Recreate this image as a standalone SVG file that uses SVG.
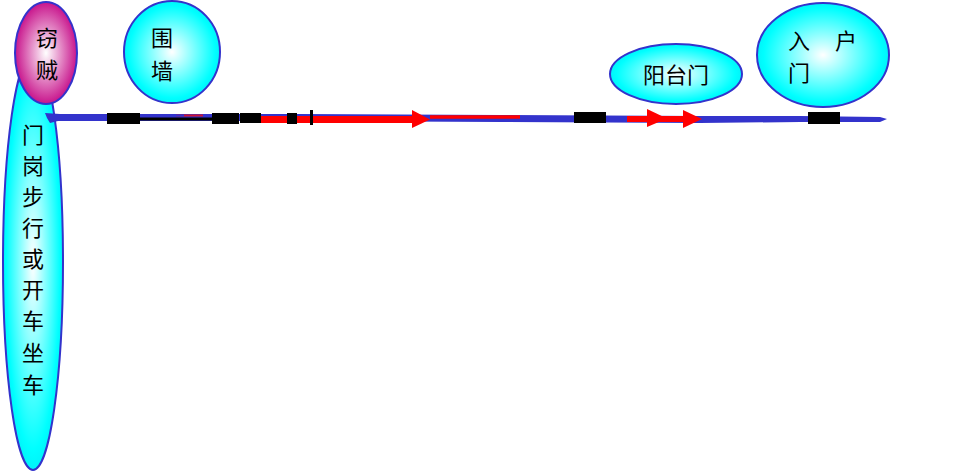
<svg xmlns="http://www.w3.org/2000/svg" width="976" height="472" viewBox="0 0 976 472">
<defs>
<radialGradient id="gc" cx="50%" cy="50%" r="50%">
<stop offset="0" stop-color="#ffffff"/>
<stop offset="0.9" stop-color="#00ffff"/>
<stop offset="1" stop-color="#00f4fa"/>
</radialGradient>
<radialGradient id="gm" cx="50%" cy="50%" r="50%">
<stop offset="0" stop-color="#ffffff"/>
<stop offset="1" stop-color="#c8148c"/>
</radialGradient>
</defs>
<style>
.node ellipse{stroke:#3333cc;stroke-width:2}
.cyan{fill:url(#gc)}
.mag{fill:url(#gm)}
text{font-family:"Noto Sans CJK SC","Noto Sans",sans-serif;font-size:22px;fill:#000}
.blk{fill:#000}
.arr{fill:#ff0000}
</style>
<g id="guard">
<g class="node"><ellipse class="cyan" cx="33" cy="262" rx="30" ry="208"/></g>
<text x="33" y="143" text-anchor="middle">门</text>
<text x="33" y="174" text-anchor="middle">岗</text>
<text x="33" y="205" text-anchor="middle">步</text>
<text x="33" y="236" text-anchor="middle">行</text>
<text x="33" y="267" text-anchor="middle">或</text>
<text x="33" y="298" text-anchor="middle">开</text>
<text x="33" y="329" text-anchor="middle">车</text>
<text x="33" y="361" text-anchor="middle">坐</text>
<text x="33" y="393" text-anchor="middle">车</text>
</g>
<g id="thief" class="node">
<ellipse class="mag" cx="46" cy="53" rx="31" ry="51"/>
<text x="47" y="46" text-anchor="middle">窃</text>
<text x="47" y="78" text-anchor="middle">贼</text>
</g>
<g id="wall" class="node">
<ellipse class="cyan" cx="172" cy="52" rx="48" ry="51"/>
<text x="162" y="46" text-anchor="middle">围</text>
<text x="162" y="79" text-anchor="middle">墙</text>
</g>
<g id="balcony" class="node">
<ellipse class="cyan" cx="676" cy="74" rx="66" ry="30"/>
<text x="676" y="83" text-anchor="middle">阳台门</text>
</g>
<g id="entry" class="node">
<ellipse class="cyan" cx="823" cy="55" rx="66" ry="52"/>
<text x="799" y="49" text-anchor="middle">入</text>
<text x="846" y="49" text-anchor="middle">户</text>
<text x="799" y="81" text-anchor="middle">门</text>
</g>
<g id="connectors">
<polygon points="45,113 60,114 110,114 300,114 500,115 700,116 800,116 880,117 887,119 880,122 800,122 700,123 500,122 300,121 110,121 58,121 50,123 47,118" fill="#3333cc"/>
<line x1="140" y1="119" x2="214" y2="119" stroke="#000" stroke-width="3"/>
<line x1="176" y1="115.5" x2="203" y2="115.5" stroke="#cc1133" stroke-width="2"/>
<line x1="176" y1="115.5" x2="184" y2="115.5" stroke="#3333cc" stroke-width="2"/>
<line x1="258" y1="119.5" x2="414" y2="119.5" stroke="#ff0000" stroke-width="7"/>
<polygon class="arr" points="412,110 430,119.5 412,128"/>
<line x1="430" y1="117" x2="520" y2="117" stroke="#ff0000" stroke-width="3.5"/>
<line x1="627" y1="119" x2="685" y2="119" stroke="#ff0000" stroke-width="6"/>
<polygon class="arr" points="647,109 667,118.5 647,127"/>
<polygon class="arr" points="683,110 702,119 683,128"/>
<rect class="blk" x="107" y="113" width="33" height="11"/>
<rect class="blk" x="212" y="113" width="27" height="11"/>
<rect class="blk" x="240" y="113" width="21" height="10"/>
<rect class="blk" x="287" y="113" width="10" height="11"/>
<rect class="blk" x="310" y="110" width="3" height="15"/>
<rect class="blk" x="574" y="112" width="32" height="11"/>
<rect class="blk" x="808" y="112" width="32" height="12"/>
</g>
</svg>
